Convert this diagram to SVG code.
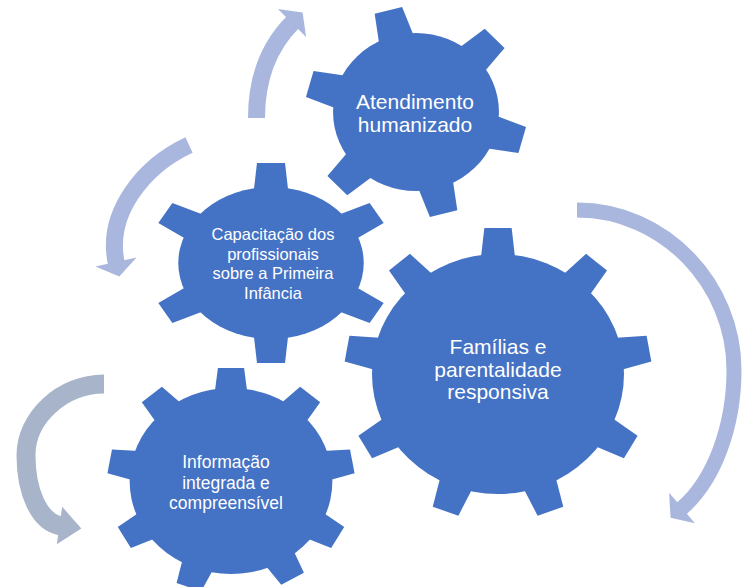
<svg xmlns="http://www.w3.org/2000/svg" xmlns:xlink="http://www.w3.org/1999/xlink" width="745" height="587" viewBox="0 0 745 587">
  <style>
    .gear { fill: #4472C4; }
    .arr { fill: none; stroke: #A9B6DD; stroke-linecap: butt; }
    .arrh { fill: #A9B6DD; }
    .arr2 { fill: none; stroke: #A8B4CA; stroke-linecap: butt; }
    .arrh2 { fill: #A8B4CA; }
    .lbl { font-family: "Liberation Sans", Arial, sans-serif; fill: #FFFFFF; text-anchor: middle; }
  </style>
  <defs>
    <polygon id="t1" points="-17,-74 17,-74 13.5,-105 -13.5,-105"/>
    <polygon id="t2" points="-14.5,-68 14.5,-68 11.5,-100 -11.5,-100"/>
    <polygon id="t3" points="-16.5,-114 16.5,-114 13,-146 -13,-146"/>
    <polygon id="t4" points="-15,-88 15,-88 12,-113 -12,-113"/>
  </defs>

  <rect width="745" height="587" fill="#FFFFFF"/>

  <g id="connectors">
    <g id="arrow-top">
      <path class="arr" stroke-width="17" d="M256.5,118 C256.5,80 268,47 293,22"/>
      <polygon class="arrh" points="277.9,8.9 302.6,12.4 306.1,37.1"/>
    </g>
    <g id="arrow-left">
      <path class="arr" stroke-width="17" d="M189,145 C144,166 105,213 116.5,264"/>
      <polygon class="arrh" points="95.5,266.6 119.3,276.6 136.5,257.4"/>
    </g>
    <g id="arrow-right">
      <path class="arr" stroke-width="15" d="M577,210 C665,210 734,285 734,370 C734,425 715,480 681,509"/>
      <polygon class="arrh" points="669.1,492.8 670.6,517.7 694.9,523.2"/>
    </g>
    <g id="arrow-bottom-left">
      <path class="arr2" stroke-width="19" d="M104,384 C62,384 26,418 26,455 C26,492 39,522 61,526"/>
      <polygon class="arrh2" points="62.2,506.7 81.3,528.6 56.8,544.3"/>
    </g>
  </g>

  <g id="node-atendimento">
    <g class="gear" transform="translate(416,112) scale(1.05,1)">
      <circle r="79"/>
      <use xlink:href="#t1" transform="rotate(-14.5)"/>
      <use xlink:href="#t1" transform="rotate(45.5)"/>
      <use xlink:href="#t1" transform="rotate(105.5)"/>
      <use xlink:href="#t1" transform="rotate(165.5)"/>
      <use xlink:href="#t1" transform="rotate(225.5)"/>
      <use xlink:href="#t1" transform="rotate(285.5)"/>
    </g>
    <text class="lbl" font-size="21" x="415" y="109">Atendimento</text>
    <text class="lbl" font-size="21" x="415" y="132">humanizado</text>
  </g>

  <g id="node-capacitacao">
    <g class="gear" transform="translate(271,263) scale(1.22,1)">
      <circle r="76"/>
      <use xlink:href="#t2" transform="rotate(0)"/>
      <use xlink:href="#t2" transform="rotate(60)"/>
      <use xlink:href="#t2" transform="rotate(120)"/>
      <use xlink:href="#t2" transform="rotate(180)"/>
      <use xlink:href="#t2" transform="rotate(240)"/>
      <use xlink:href="#t2" transform="rotate(300)"/>
    </g>
    <text class="lbl" font-size="16.5" x="273" y="240">Capacitação dos</text>
    <text class="lbl" font-size="16.5" x="273" y="259.5">profissionais</text>
    <text class="lbl" font-size="16.5" x="273" y="279">sobre a Primeira</text>
    <text class="lbl" font-size="16.5" x="273" y="298.5">Infância</text>
  </g>

  <g id="node-familias">
    <g class="gear" transform="translate(498,374) scale(1.05,1)">
      <circle r="120"/>
      <use xlink:href="#t3" transform="rotate(0)"/>
      <use xlink:href="#t3" transform="rotate(40)"/>
      <use xlink:href="#t3" transform="rotate(80)"/>
      <use xlink:href="#t3" transform="rotate(120)"/>
      <use xlink:href="#t3" transform="rotate(160)"/>
      <use xlink:href="#t3" transform="rotate(200)"/>
      <use xlink:href="#t3" transform="rotate(240)"/>
      <use xlink:href="#t3" transform="rotate(280)"/>
      <use xlink:href="#t3" transform="rotate(320)"/>
    </g>
    <text class="lbl" font-size="21" x="498" y="354">Famílias e</text>
    <text class="lbl" font-size="21" x="498" y="376.5">parentalidade</text>
    <text class="lbl" font-size="21" x="498" y="399">responsiva</text>
  </g>

  <g id="node-informacao">
    <g class="gear" transform="translate(231,481) scale(1.09,1)">
      <circle r="93"/>
      <use xlink:href="#t4" transform="rotate(0)"/>
      <use xlink:href="#t4" transform="rotate(40)"/>
      <use xlink:href="#t4" transform="rotate(80)"/>
      <use xlink:href="#t4" transform="rotate(120)"/>
      <use xlink:href="#t4" transform="rotate(150)"/>
      <use xlink:href="#t4" transform="rotate(200)"/>
      <use xlink:href="#t4" transform="rotate(240)"/>
      <use xlink:href="#t4" transform="rotate(280)"/>
      <use xlink:href="#t4" transform="rotate(320)"/>
    </g>
    <text class="lbl" font-size="17.5" x="226" y="468">Informação</text>
    <text class="lbl" font-size="17.5" x="226" y="488.5">integrada e</text>
    <text class="lbl" font-size="17.5" x="226" y="509">compreensível</text>
  </g>
</svg>
